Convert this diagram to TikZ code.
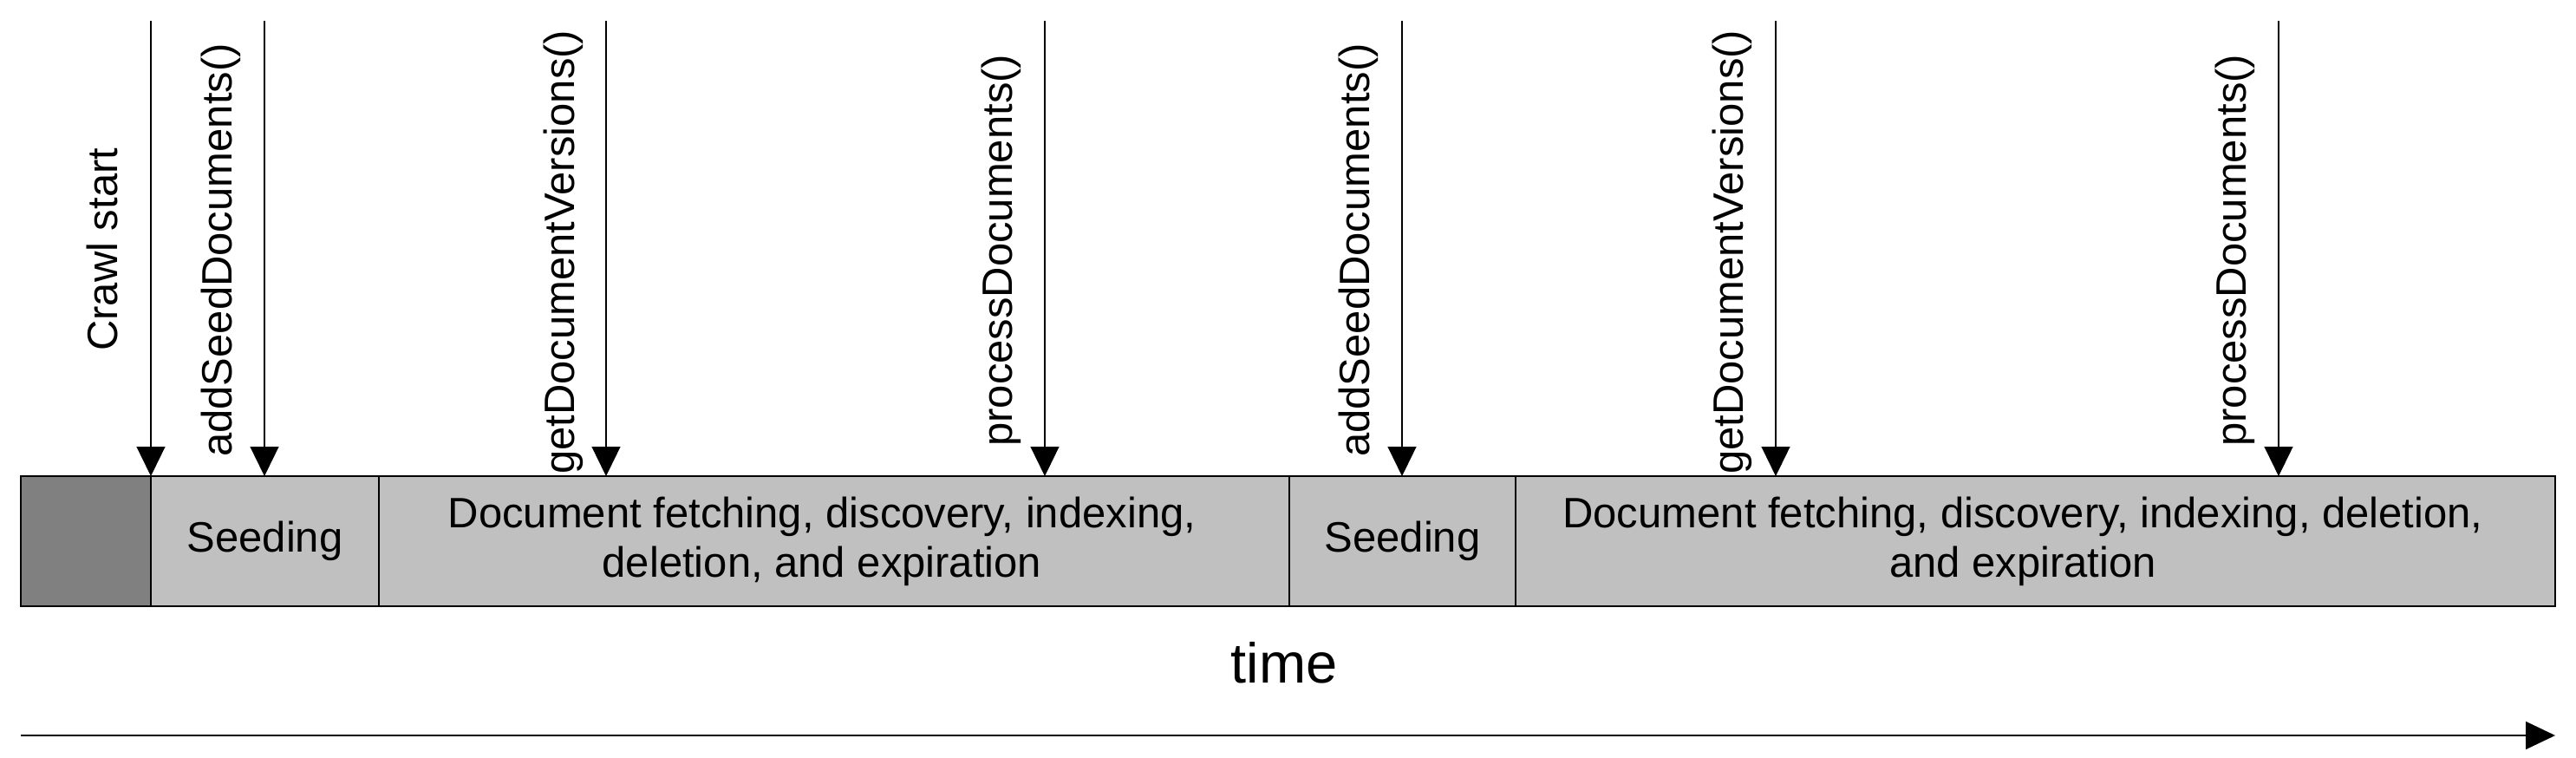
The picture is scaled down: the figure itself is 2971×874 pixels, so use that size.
\documentclass[tikz,border=0pt]{standalone}
\usepackage{fontspec}
\setmainfont{Liberation Sans}
\usetikzlibrary{arrows.meta}
\definecolor{lightbox}{RGB}{192,192,192}
\definecolor{darkbox}{RGB}{128,128,128}
\begin{document}
\begin{tikzpicture}[x=1pt,y=-1pt,
  txtfont/.style={font=\fontsize{49}{57}\selectfont},
  box/.style={draw=black, line width=1.6pt, fill=lightbox, minimum height=150pt,
    anchor=north west, inner sep=0pt, outer sep=0pt, txtfont},
  boxtext/.style={txtfont, align=center, inner sep=0pt},
  vlab/.style={txtfont, rotate=90, anchor=base west, inner sep=0pt},
  arr/.style={draw=black, line width=1.3pt, -{Triangle[width=33pt,length=34pt]}},
  tarr/.style={draw=black, line width=1.8pt, -{Triangle[width=32pt,length=34pt]}}]
\useasboundingbox (0,0) rectangle (2971,874);

% bar segments
\node[box, fill=darkbox, minimum width=150pt] (pre) at (24,549) {};
\node[box, minimum width=263pt] (seed1) at (174,549) {Seeding};
\node[box, minimum width=1050pt] (doc1) at (437,549) {};
\node[box, minimum width=261pt] (seed2) at (1487,549) {Seeding};
\node[box, minimum width=1199pt] (doc2) at (1748,549) {};

\node[boxtext] (doc1t) at (948,624) {Document fetching, discovery, indexing,\\deletion, and expiration};
\node[boxtext] (doc2t) at (2333,624) {Document fetching, discovery, indexing, deletion,\\and expiration};

% event arrows
\coordinate (a0) at (174,24);
\coordinate (a1) at (305,24);
\coordinate (a2) at (699,24);
\coordinate (a3) at (1205,24);
\coordinate (a4) at (1617,24);
\coordinate (a5) at (2048,24);
\coordinate (a6) at (2628,24);
\draw[arr] (a0) -- (a0 |- pre.north);
\draw[arr] (a1) -- (a1 |- seed1.north);
\draw[arr] (a2) -- (a2 |- doc1.north);
\draw[arr] (a3) -- (a3 |- doc1.north);
\draw[arr] (a4) -- (a4 |- seed2.north);
\draw[arr] (a5) -- (a5 |- doc2.north);
\draw[arr] (a6) -- (a6 |- doc2.north);

% event labels
\node[vlab] (l0) at (135,405) {Crawl start};
\node[vlab] (l1) at (267,527) {addSeedDocuments()};
\node[vlab] (l2) at (662,547) {getDocumentVersions()};
\node[vlab] (l3) at (1167,515) {processDocuments()};
\node[vlab] (l4) at (1579,527) {addSeedDocuments()};
\node[vlab] (l5) at (2010,547) {getDocumentVersions()};
\node[vlab] (l6) at (2590,515) {processDocuments()};

% time axis
\node[font=\fontsize{65}{78}\selectfont, anchor=base, inner sep=0pt] (time) at (1481,787) {time};
\coordinate (ts) at (24,848);
\coordinate (te) at (2947,848);
\draw[tarr] (ts) -- (te);
\end{tikzpicture}
\end{document}
